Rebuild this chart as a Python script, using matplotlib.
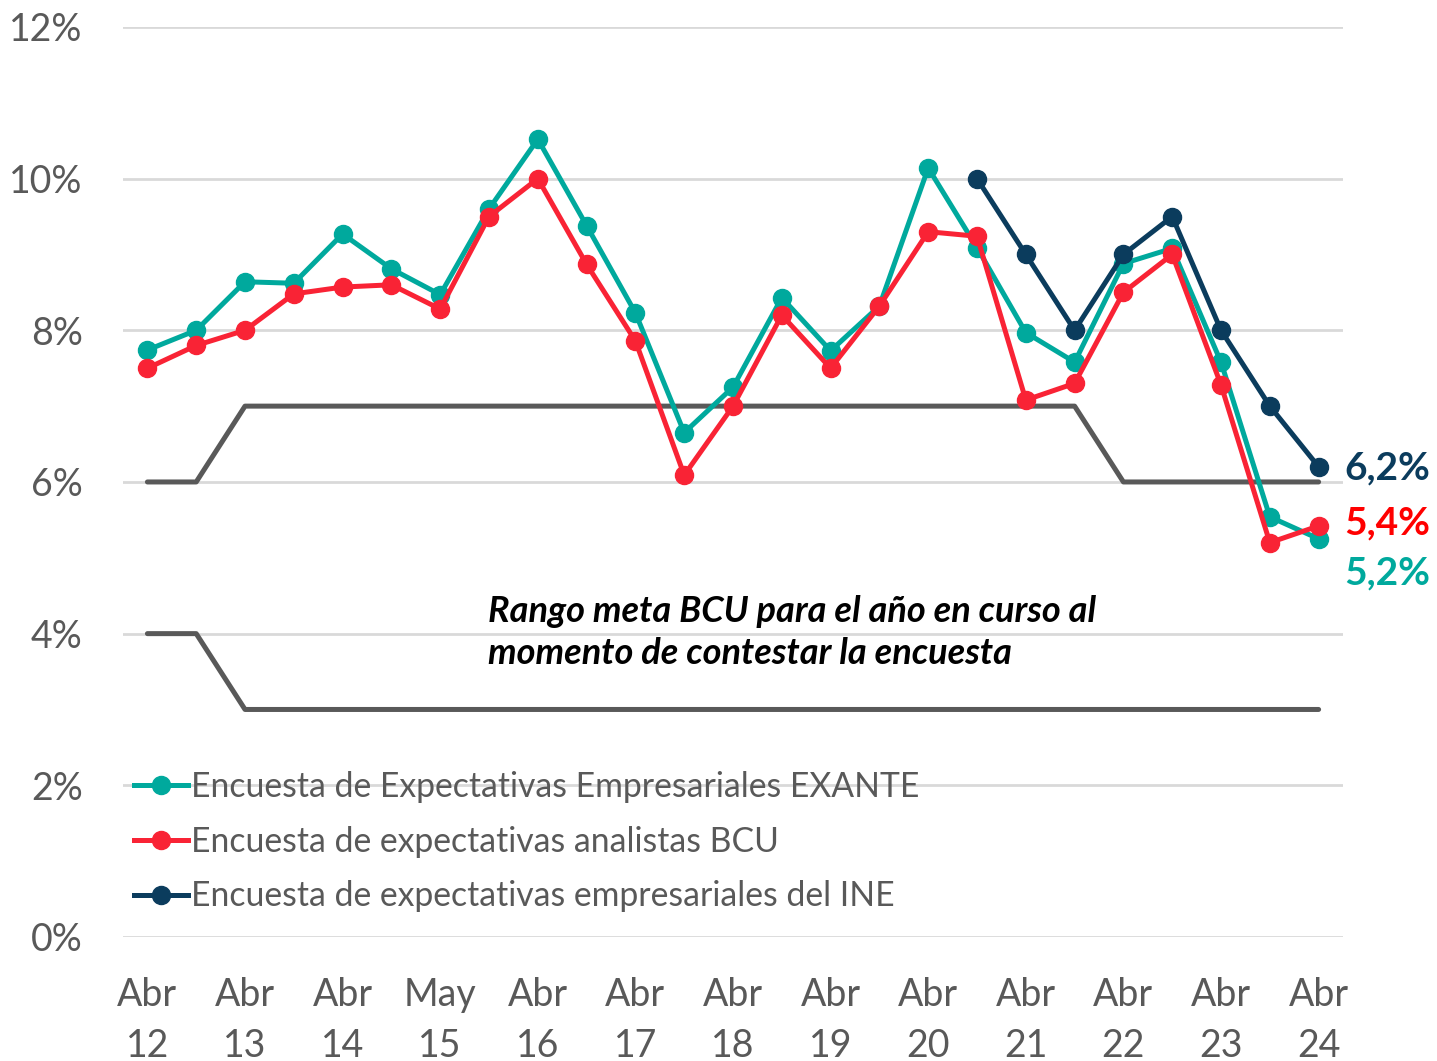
import matplotlib
matplotlib.use("Agg")
import matplotlib.pyplot as plt
from matplotlib.ticker import FuncFormatter

plt.rcParams['font.family'] = ['Lato', 'DejaVu Sans']

# semiannual observations, Abr 12 ... Abr 24
tick_labels = ["Abr\n12", "Abr\n13", "Abr\n14", "May\n15", "Abr\n16", "Abr\n17", "Abr\n18",
               "Abr\n19", "Abr\n20", "Abr\n21", "Abr\n22", "Abr\n23", "Abr\n24"]

exante = [7.74, 8.0, 8.64, 8.62, 9.27, 8.81, 8.47, 9.6, 10.52, 9.38, 8.23, 6.65, 7.25,
          8.43, 7.73, 8.32, 10.14, 9.09, 7.97, 7.58, 8.88, 9.08, 7.58, 5.54, 5.25]
bcu = [7.5, 7.8, 8.0, 8.48, 8.57, 8.6, 8.28, 9.5, 10.0, 8.87, 7.86, 6.09, 7.0,
       8.2, 7.5, 8.32, 9.3, 9.24, 7.08, 7.3, 8.5, 9.0, 7.28, 5.2, 5.42]
ine_start = 17
ine = [10.0, 9.0, 8.0, 9.0, 9.5, 8.0, 7.0, 6.2]

range_high = [6, 6] + [7] * 18 + [6] * 5
range_low = [4, 4] + [3] * 23

TEAL = "#00A99D"
RED = "#F92335"
NAVY = "#0B3C5D"
GRAY = "#595959"
TXT = "#595959"

x = list(range(len(exante)))
x_ine = list(range(ine_start, ine_start + len(ine)))

fig = plt.figure(figsize=(14.37, 10.61), dpi=100)
ax = fig.add_axes([0.0856, 0.1169, 0.8490, 0.8577])

for y in range(0, 13, 2):
    ax.axhline(y, color="#D9D9D9", linewidth=2, zorder=0)

ax.plot(x, range_high, color=GRAY, linewidth=3.6, solid_capstyle="round", zorder=1)
ax.plot(x, range_low, color=GRAY, linewidth=3.6, solid_capstyle="round", zorder=1)

ax.plot(x, exante, color=TEAL, linewidth=3.6, marker="o", markersize=13,
        label="Encuesta de Expectativas Empresariales EXANTE", zorder=3)
ax.plot(x, bcu, color=RED, linewidth=3.6, marker="o", markersize=13,
        label="Encuesta de expectativas analistas BCU", zorder=4)
ax.plot(x_ine, ine, color=NAVY, linewidth=3.6, marker="o", markersize=13,
        label="Encuesta de expectativas empresariales del INE", zorder=5)

ax.set_xlim(-0.5, 24.5)
ax.set_ylim(0, 12)
ax.set_yticks(range(0, 13, 2))
ax.yaxis.set_major_formatter(FuncFormatter(lambda v, p: f"{v:.0f}%"))
ax.set_xticks(x[::2])
ax.set_xticklabels(tick_labels, linespacing=1.5)
ax.tick_params(axis="both", length=0, labelsize=27, labelcolor=TXT)
ax.tick_params(axis="y", pad=29)
ax.tick_params(axis="x", pad=29)
for s in ax.spines.values():
    s.set_visible(False)

ax.text(6.98, 4.02, "Rango meta BCU para el año en curso al\nmomento de contestar la encuesta",
        fontsize=26, fontweight="bold", fontstyle="italic", color="black",
        va="center", ha="left", linespacing=1.33)

ax.text(24.53, 6.18, "6,2%", color=NAVY, fontsize=28, fontweight="bold", va="center", clip_on=False)
ax.text(24.53, 5.46, "5,4%", color="#FF0000", fontsize=28, fontweight="bold", va="center", clip_on=False)
ax.text(24.53, 4.80, "5,2%", color=TEAL, fontsize=28, fontweight="bold", va="center", clip_on=False)

leg = ax.legend(loc="upper left", bbox_to_anchor=(-0.002, 0.197), frameon=False,
                fontsize=24.3, handlelength=1.6, handletextpad=0.1, labelspacing=0.67,
                borderaxespad=0)
for t in leg.get_texts():
    t.set_color(TXT)

fig.savefig("out.png", dpi=100)
